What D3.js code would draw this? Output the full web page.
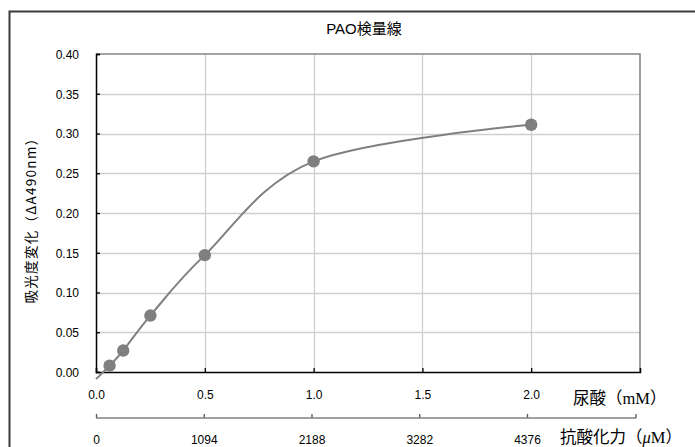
<!DOCTYPE html>
<html>
<head>
<meta charset="utf-8">
<script src="https://cdn.jsdelivr.net/npm/d3@7"></script>
<style>
  body { margin: 0; background: #fff; }
  svg { display: block; }
  text { font-family: "Liberation Sans", Arial, "Noto Sans CJK JP", sans-serif; fill: #000; }
</style>
</head>
<body>
<svg id="chart" width="695" height="447"></svg>
<script>
// ---- data ----
const uricAcid = [0.0625, 0.125, 0.25, 0.5, 1.0, 2.0];            // mM
const absorbance = [0.008, 0.027, 0.071, 0.147, 0.265, 0.311];    // ΔA490nm
const lineX = [0, 0.0625, 0.125, 0.25, 0.5, 1.0, 2.0];            // smoothed line incl. blank
const lineY = [-0.009, 0.008, 0.027, 0.071, 0.147, 0.265, 0.311];
const xTicks = [0.0, 0.5, 1.0, 1.5, 2.0];
const yTicks = [0.00, 0.05, 0.10, 0.15, 0.20, 0.25, 0.30, 0.35, 0.40];
const antiTicks = [0, 1094, 2188, 3282, 4376];
const titleText = "PAO検量線";
const yTitle = "吸光度変化（ΔA490nm）";

const svg = d3.select("#chart");
const L = 96, R = 640, T = 54, B = 372;

const x = d3.scaleLinear().domain([0, 2.5]).range([L, R]);
const y = d3.scaleLinear().domain([0, 0.4]).range([B, T]);
const x2 = d3.scaleLinear().domain([0, 4376]).range([96, 527]);

// outer frame (only left and top visible)
svg.append("path")
  .attr("d", `M9.5,447 V11.5 H700`)
  .attr("fill", "none").attr("stroke", "#3a3a3a").attr("stroke-width", 2);

// gridlines
const g = svg.append("g");
g.selectAll(".vg").data(xTicks.slice(1)).join("line")
  .attr("x1", d => Math.round(x(d)) + 0.5).attr("x2", d => Math.round(x(d)) + 0.5)
  .attr("y1", T).attr("y2", B)
  .attr("stroke", "#cfcfcf").attr("stroke-width", 1.3);
g.selectAll(".hg").data(yTicks.slice(1, -1)).join("line")
  .attr("y1", d => Math.round(y(d)) + 0.5).attr("y2", d => Math.round(y(d)) + 0.5)
  .attr("x1", L).attr("x2", R)
  .attr("stroke", "#cfcfcf").attr("stroke-width", 1.3);

// top and right border (gray)
svg.append("path")
  .attr("d", `M${L},${T} H${R} V${B}`)
  .attr("fill", "none").attr("stroke", "#858585").attr("stroke-width", 1.6);

// axes (ticks inside)
const yAxis = d3.axisLeft(y).tickValues(yTicks).tickSize(-4).tickFormat(d3.format(".2f")).tickPadding(17);
const yg = svg.append("g").attr("transform", `translate(${L},0)`).call(yAxis);
yg.select(".domain").attr("stroke", "#000").attr("stroke-width", 1.5);
yg.selectAll(".tick line").attr("stroke", "#000").attr("stroke-width", 1.3);
yg.selectAll(".tick text").attr("font-size", 12).attr("dy", "0.36em");

const xAxis = d3.axisBottom(x).tickValues(xTicks).tickSize(-4).tickFormat(d3.format(".1f")).tickPadding(18);
const xg = svg.append("g").attr("transform", `translate(0,${B})`).call(xAxis);
xg.select(".domain").attr("stroke", "#000").attr("stroke-width", 1.5);
xg.selectAll(".tick line").attr("stroke", "#000").attr("stroke-width", 1.3);
xg.selectAll(".tick text").attr("font-size", 12);

// secondary axis
const x2Axis = d3.axisTop(x2).tickValues(antiTicks).tickSize(4).tickFormat(d => d);
const x2g = svg.append("g").attr("transform", `translate(0,418)`).call(x2Axis);
x2g.select(".domain").remove();
x2g.append("line").attr("x1", x2(0)).attr("x2", 636).attr("y1", 0).attr("y2", 0)
  .attr("stroke", "#808080").attr("stroke-width", 1.5);
x2g.append("line").attr("x1", 636).attr("x2", 636).attr("y1", 0).attr("y2", -4)
  .attr("stroke", "#555").attr("stroke-width", 1.3);
x2g.selectAll(".tick line").attr("stroke", "#555").attr("stroke-width", 1.3);
x2g.selectAll(".tick text").attr("font-size", 12).attr("dy", null)
  .attr("y", 22).attr("dominant-baseline", "central");

// line (Excel-style smoothing)
const lineData = lineX.map((d, i) => [d, lineY[i]]);
svg.append("path")
  .datum(lineData)
  .attr("d", d3.line().x(d => x(d[0])).y(d => y(d[1])).curve(d3.curveCardinal.tension(0)))
  .attr("fill", "none").attr("stroke", "#7f7f7f").attr("stroke-width", 2);

// markers
svg.selectAll(".pt").data(uricAcid.map((d, i) => [d, absorbance[i]])).join("circle")
  .attr("cx", d => x(d[0])).attr("cy", d => y(d[1])).attr("r", 6.2)
  .attr("fill", "#7f7f7f");

// titles
svg.append("text").attr("x", 364).attr("y", 34).attr("text-anchor", "middle")
  .attr("font-size", 15).text(titleText);

svg.append("text").attr("transform", `translate(36,217) rotate(-90)`)
  .attr("text-anchor", "middle").attr("font-size", 13.5).attr("letter-spacing", 1.3)
  .style("font-family", "'Noto Sans CJK JP', sans-serif").text(yTitle);

const t1 = svg.append("text").attr("x", 573).attr("y", 404).attr("font-size", 16.5);
t1.append("tspan").style("font-family", "'Noto Sans CJK JP', sans-serif").text("尿酸（");
t1.append("tspan").style("font-family", "'Liberation Serif', serif").text("mM");
t1.append("tspan").style("font-family", "'Noto Sans CJK JP', sans-serif").text("）");

const t2 = svg.append("text").attr("x", 560).attr("y", 443).attr("font-size", 16.5);
t2.append("tspan").style("font-family", "'Noto Sans CJK JP', sans-serif").text("抗酸化力（");
t2.append("tspan").style("font-family", "'Liberation Serif', serif").attr("font-style", "italic").text("μ");
t2.append("tspan").style("font-family", "'Liberation Serif', serif").text("M");
t2.append("tspan").style("font-family", "'Noto Sans CJK JP', sans-serif").text("）");
</script>
</body>
</html>
